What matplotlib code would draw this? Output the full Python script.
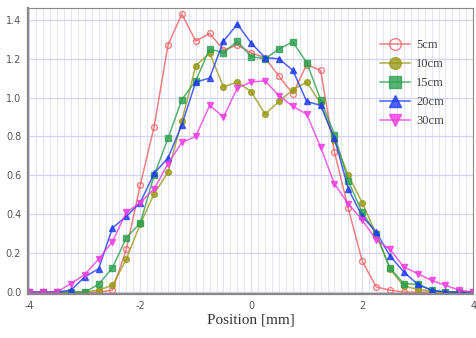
import matplotlib.pyplot as plt
import numpy as np

# positions in mm, 0.25 mm step
position = np.arange(-4, 4.001, 0.25)

cm5 = [0, 0, 0, 0, 0, 0, 0.01, 0.22, 0.55, 0.85, 1.27, 1.43, 1.29, 1.33, 1.245, 1.27,
       1.23, 1.205, 1.11, 1.02, 1.17, 1.14, 0.72, 0.43, 0.16, 0.027, 0.01, 0, 0, 0, 0, 0, 0]
cm10 = [0, 0, 0, 0, 0, 0.01, 0.035, 0.17, 0.35, 0.505, 0.616, 0.88, 1.163, 1.23, 1.055, 1.08,
        1.03, 0.915, 0.98, 1.04, 1.08, 0.97, 0.78, 0.6, 0.46, 0.3, 0.12, 0.03, 0.015, 0.005, 0, 0, 0]
cm15 = [0, 0, 0, 0, 0, 0.04, 0.125, 0.28, 0.355, 0.6, 0.79, 0.99, 1.086, 1.25, 1.23, 1.29,
        1.21, 1.2, 1.25, 1.286, 1.18, 0.99, 0.81, 0.57, 0.41, 0.3, 0.124, 0.044, 0.04, 0.01, 0, 0, 0]
cm20 = [0, 0, 0, 0.01, 0.078, 0.12, 0.33, 0.39, 0.46, 0.61, 0.69, 0.86, 1.08, 1.1, 1.29, 1.377,
        1.28, 1.205, 1.2, 1.14, 0.98, 0.96, 0.79, 0.53, 0.39, 0.31, 0.186, 0.104, 0.04, 0.01, 0, 0, 0]
cm30 = [0, 0, 0, 0.044, 0.09, 0.17, 0.26, 0.41, 0.46, 0.53, 0.66, 0.77, 0.80, 0.96, 0.90, 1.05,
        1.08, 1.086, 1.01, 0.955, 0.915, 0.745, 0.556, 0.454, 0.37, 0.27, 0.22, 0.13, 0.095, 0.06, 0.035, 0.01, 0]

series = [
    ("5cm", cm5, "#f06060", "o", "none"),
    ("10cm", cm10, "#9a9a18", "o", None),
    ("15cm", cm15, "#2ea050", "s", None),
    ("20cm", cm20, "#1f3cf0", "^", None),
    ("30cm", cm30, "#f03ce0", "v", None),
]

fig = plt.figure(figsize=(4.77, 3.38), dpi=100)
ax = fig.add_axes([0.059, 0.130, 0.933, 0.846])

for label, vals, col, mk, mfc in series:
    ax.plot(position, vals, color=col, marker=mk, markersize=4.2, linewidth=1.1,
            alpha=0.8, markerfacecolor=(mfc if mfc else col), markeredgecolor=col,
            markeredgewidth=1.0, label=label)

ax.set_xlim(-4.02, 4.0)
ax.set_ylim(-0.01, 1.46)
ax.set_xticks([-4, -2, 0, 2, 4])
ax.set_xticklabels(["-4", "-2", "0", "2", "4"])
ax.set_yticks(np.arange(0, 1.41, 0.2))
ax.set_yticklabels(["%.1f" % v for v in np.arange(0, 1.41, 0.2)])
ax.set_xticks(np.arange(-4, 4.001, 0.125), minor=True)
ax.tick_params(which="both", length=0, labelsize=7, labelcolor="#555555", pad=5)
ax.grid(which="minor", axis="x", color="#e2e2f8", linewidth=0.7)
ax.grid(which="major", axis="x", color="#d8d8f6", linewidth=0.7)
ax.grid(which="major", axis="y", color="#d2d2f4", linewidth=0.9)
ax.set_axisbelow(True)

for s in ["top", "right"]:
    ax.spines[s].set_color("#888888")
    ax.spines[s].set_linewidth(0.8)
for s in ["left", "bottom"]:
    ax.spines[s].set_color("#888888")
    ax.spines[s].set_linewidth(1.6)

ax.set_xlabel("Position [mm]", family="Liberation Serif", fontsize=11, color="#333333", labelpad=2)

leg = ax.legend(loc="upper left", bbox_to_anchor=(0.765, 0.93), frameon=False,
                prop={"family": "Liberation Serif", "size": 9}, markerscale=2.0,
                handlelength=2.4, labelspacing=0.55, handletextpad=0.5)
for t in leg.get_texts():
    t.set_color("#444444")

fig.savefig("out.png", dpi=100)
